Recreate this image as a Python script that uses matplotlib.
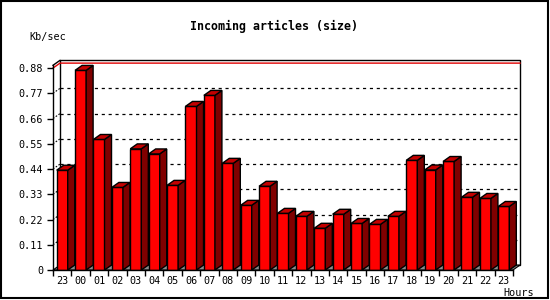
import matplotlib
matplotlib.use("Agg")
import matplotlib.pyplot as plt
from matplotlib.patches import Polygon, Rectangle

hours = ["23", "00", "01", "02", "03", "04", "05", "06", "07", "08", "09", "10",
         "11", "12", "13", "14", "15", "16", "17", "18", "19", "20", "21", "22", "23"]
kbsec = [0.435, 0.870, 0.569, 0.360, 0.528, 0.506, 0.369, 0.713, 0.761, 0.465,
         0.282, 0.365, 0.247, 0.234, 0.182, 0.243, 0.203, 0.199, 0.234, 0.478,
         0.436, 0.473, 0.317, 0.312, 0.277]
yticks = [0, 0.11, 0.22, 0.33, 0.44, 0.55, 0.66, 0.77, 0.88]
ytick_labels = ["0", "0.11", "0.22", "0.33", "0.44", "0.55", "0.66", "0.77", "0.88"]

W = 0.6      # bar front width
DX = 0.38    # depth offset in x units
DY = 0.0215  # depth offset in y units
YTOP = 0.892
n = len(kbsec)
x0, x1 = -0.5, n - 0.5

mono = "DejaVu Sans Mono"
fig = plt.figure(figsize=(5.5, 3.0), dpi=100)
ax = fig.add_axes([53 / 550, 0.1, 460 / 550, 204.7 / 300])
ax.set_xlim(x0, x1)
ax.set_ylim(0, YTOP)
ax.patch.set_visible(False)

# back wall
ax.add_patch(Rectangle((x0 + DX, DY), x1 - x0, YTOP, facecolor="white",
                       edgecolor="black", lw=1, clip_on=False, zorder=0))
ax.plot([x0, x0 + DX], [YTOP, YTOP + DY], color="black", lw=1, clip_on=False, zorder=1)

# grid on back wall
for v in yticks[1:-1]:
    ax.plot([x0 + DX, x1 + DX], [v + DY, v + DY], color="black", lw=0.9,
            ls=(0, (2.5, 3)), clip_on=False, zorder=1)
    ax.plot([x0, x0 + DX], [v, v + DY], color="black", lw=0.8,
            ls=(0, (1.5, 1.5)), clip_on=False, zorder=1)
ax.plot([x0, x0 + DX, x1 + DX], [0.88, 0.88 + DY, 0.88 + DY], color="#e00000",
        lw=1, clip_on=False, zorder=1)

# floor
ax.add_patch(Polygon([(x0, 0), (x1, 0), (x1 + DX, DY), (x0 + DX, DY)],
                     closed=True, facecolor="#8c8c8c", edgecolor="black", lw=0.8,
                     clip_on=False, zorder=1))

# bars
xs = list(range(n))
ax.bar(xs, kbsec, width=W, color="#ff0000", edgecolor="black", lw=1, zorder=3)
for x, v in zip(xs, kbsec):
    xl, xr = x - W / 2, x + W / 2
    ax.add_patch(Polygon([(xr, 0), (xr + DX, DY), (xr + DX, v + DY), (xr, v)],
                         closed=True, facecolor="#800000", edgecolor="black",
                         lw=1, clip_on=False, zorder=3))
    ax.add_patch(Polygon([(xl, v), (xl + DX, v + DY), (xr + DX, v + DY), (xr, v)],
                         closed=True, facecolor="#c40000", edgecolor="black",
                         lw=1, clip_on=False, zorder=3))

for s in ["top", "right"]:
    ax.spines[s].set_visible(False)
for s in ["left", "bottom"]:
    ax.spines[s].set_linewidth(1)
    ax.spines[s].set_zorder(4)

ax.set_yticks(yticks, ytick_labels)
ax.set_xticks(xs, hours)
ax.set_xticks([i - 0.5 for i in range(n + 1)], minor=True)
ax.tick_params(axis="y", length=4, width=1, pad=3, labelsize=7.3)
ax.tick_params(axis="x", which="major", length=0, pad=4, labelsize=7.3)
ax.tick_params(axis="x", which="minor", length=4, width=1)
for lab in ax.get_xticklabels() + ax.get_yticklabels():
    lab.set_family(mono)

fig.text(274 / 550, 1 - 26.5 / 300, "Incoming articles (size)", ha="center",
         va="center", family=mono, weight="bold", fontsize=8.4)
fig.text(47.5 / 550, 1 - 37 / 300, "Kb/sec", ha="center", va="center",
         family=mono, fontsize=7.3)
fig.text(519 / 550, 1 - 292.5 / 300, "Hours", ha="center", va="center",
         family=mono, fontsize=7.3)

fig.add_artist(Rectangle((1 / 550, 1 - 298 / 300), 547 / 550, 297 / 300,
                         transform=fig.transFigure, fill=False,
                         edgecolor="black", lw=1.5))

fig.savefig("out.png", dpi=100)
